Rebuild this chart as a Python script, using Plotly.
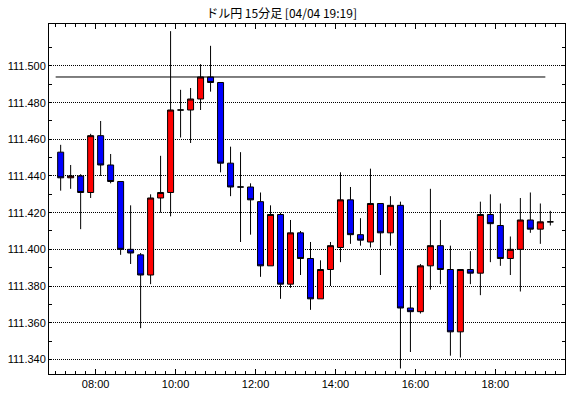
import pandas as pd
import plotly.graph_objects as go

# ---- data ----
start_times = pd.date_range("2019-04-04 07:00", "2019-04-04 19:15", freq="15min")
opens = [111.453, 111.439, 111.440, 111.431, 111.462, 111.446, 111.437, 111.400, 111.397, 111.386,
         111.428, 111.431, 111.476, 111.476, 111.482, 111.494, 111.491, 111.447, 111.434, 111.434,
         111.426, 111.391, 111.419, 111.381, 111.409, 111.395, 111.373, 111.389, 111.401, 111.427,
         111.408, 111.404, 111.425, 111.409, 111.424, 111.368, 111.366, 111.391, 111.402, 111.389,
         111.355, 111.389, 111.387, 111.419, 111.413, 111.395, 111.400, 111.416, 111.411, 111.415]
highs = [111.457, 111.446, 111.441, 111.463, 111.470, 111.452, 111.437, 111.424, 111.398, 111.430,
         111.451, 111.519, 111.487, 111.488, 111.501, 111.511, 111.491, 111.456, 111.453, 111.436,
         111.431, 111.424, 111.420, 111.416, 111.410, 111.404, 111.394, 111.404, 111.442, 111.434,
         111.417, 111.444, 111.425, 111.429, 111.426, 111.380, 111.392, 111.433, 111.416, 111.402,
         111.389, 111.399, 111.426, 111.430, 111.425, 111.407, 111.428, 111.431, 111.425, 111.421]
lows = [111.432, 111.433, 111.411, 111.428, 111.440, 111.436, 111.397, 111.392, 111.357, 111.381,
        111.420, 111.418, 111.461, 111.458, 111.476, 111.486, 111.442, 111.429, 111.404, 111.408,
        111.385, 111.391, 111.373, 111.379, 111.386, 111.367, 111.373, 111.380, 111.393, 111.403,
        111.402, 111.401, 111.386, 111.402, 111.335, 111.344, 111.365, 111.378, 111.381, 111.342,
        111.341, 111.381, 111.375, 111.393, 111.391, 111.386, 111.377, 111.409, 111.403, 111.413]
closes = [111.439, 111.440, 111.431, 111.462, 111.446, 111.437, 111.400, 111.398, 111.386, 111.428,
          111.431, 111.476, 111.476, 111.482, 111.494, 111.491, 111.447, 111.434, 111.434, 111.427,
          111.391, 111.419, 111.381, 111.409, 111.395, 111.373, 111.389, 111.402, 111.427, 111.408,
          111.405, 111.425, 111.409, 111.424, 111.368, 111.366, 111.391, 111.402, 111.389, 111.355,
          111.389, 111.387, 111.419, 111.414, 111.395, 111.400, 111.416, 111.411, 111.415, 111.415]
ref_level = 111.494
ref_span = ["2019-04-04 07:00", "2019-04-04 19:15"]
y_ticks = [111.340, 111.360, 111.380, 111.400, 111.420, 111.440, 111.460, 111.480, 111.500]
y_minor_ticks = [111.350, 111.370, 111.390, 111.410, 111.430, 111.450, 111.470, 111.490, 111.510]
title_text = "ドル円 15分足 [04/04 19:19]"

# candles are centred in their 15-minute interval
centers = start_times + pd.Timedelta(minutes=7.5)

fig = go.Figure()
fig.add_trace(go.Candlestick(
    x=centers, open=opens, high=highs, low=lows, close=closes,
    increasing=dict(fillcolor="#FF0000", line=dict(color="black", width=1)),
    decreasing=dict(fillcolor="#0000FF", line=dict(color="black", width=1)),
    whiskerwidth=0, showlegend=False, hoverinfo="skip",
))
fig.add_trace(go.Scatter(
    x=ref_span, y=[ref_level, ref_level], mode="lines",
    line=dict(color="black", width=1), showlegend=False, hoverinfo="skip",
))

font = dict(family="Liberation Sans", size=11, color="black")
fig.update_layout(
    width=570, height=398,
    margin=dict(l=49, r=5, t=24, b=24),
    paper_bgcolor="white", plot_bgcolor="white",
    boxgap=0.4, boxgroupgap=0,
    font=font,
    title=dict(text=title_text, x=0.494, xref="container", xanchor="center",
               y=1 - 13.3 / 398, yref="container", yanchor="middle",
               font=dict(family="Noto Sans CJK JP", size=12, color="black")),
    xaxis=dict(
        type="date",
        range=["2019-04-04 06:50", "2019-04-04 19:44:30"],
        rangeslider=dict(visible=False),
        tickformat="%H:%M", dtick=7200000, tick0="2019-04-04 08:00",
        ticks="inside", ticklen=5, tickcolor="black", tickwidth=1,
        minor=dict(dtick=900000, tick0="2019-04-04 08:00", ticks="inside",
                   ticklen=3, tickcolor="black", tickwidth=1, showgrid=False),
        showgrid=False, zeroline=False,
        showline=True, linecolor="black", linewidth=1, mirror="ticks",
        tickfont=font,
    ),
    yaxis=dict(
        range=[111.3320, 111.5229],
        tickmode="array", tickvals=y_ticks, tickformat=".3f",
        ticks="inside", ticklen=3, tickcolor="black", tickwidth=1,
        minor=dict(tickmode="array", tickvals=y_minor_ticks, ticks="inside", ticklen=3,
                   tickcolor="black", tickwidth=1, showgrid=False),
        showgrid=True, gridcolor="black", gridwidth=1, griddash="1px,1px",
        zeroline=False,
        showline=True, linecolor="black", linewidth=1, mirror="ticks",
        tickfont=font,
    ),
)

fig.write_html("out.html")
